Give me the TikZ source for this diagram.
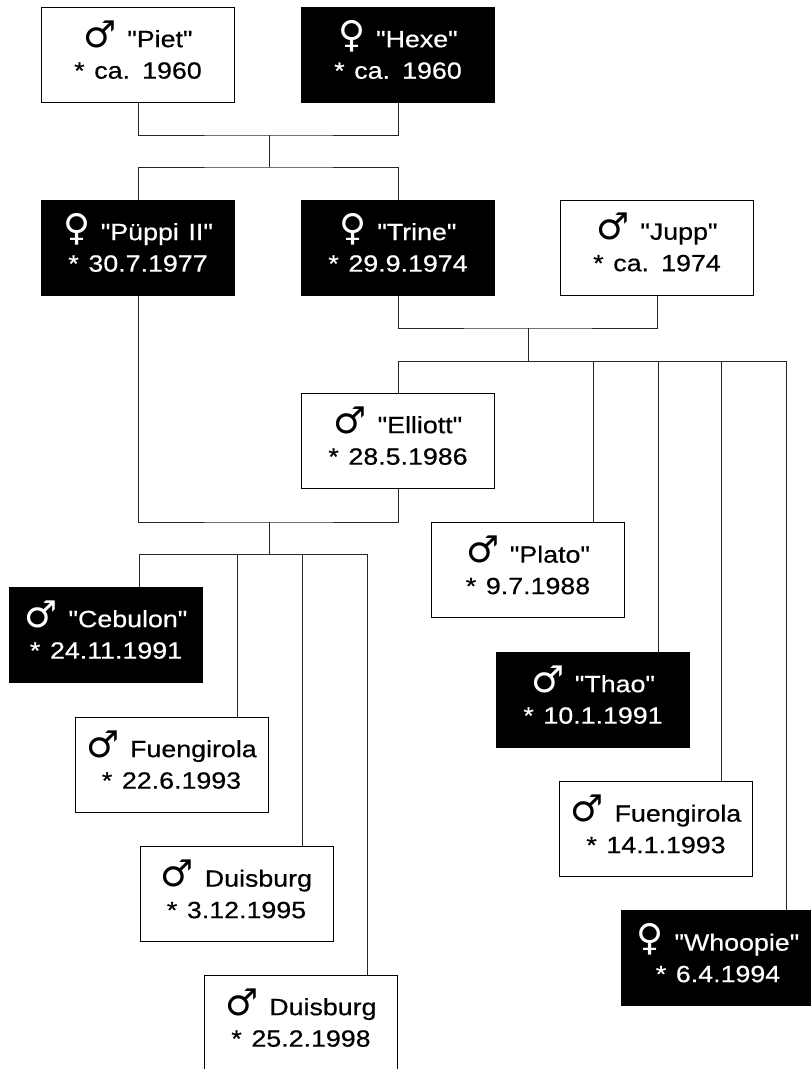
\documentclass[tikz,border=0pt]{standalone}
\usepackage{fontspec}
\newfontfamily\labelfont{Liberation Sans}[FakeStretch=1.14, WordSpace=1.3, FakeBold=0.5]
\newfontfamily\symfont{DejaVu Sans}
\newcommand\msym{\smash{\symfont\fontsize{37}{37}\selectfont ♂}\hspace{1pt}}
\newcommand\fsym{\smash{\symfont\fontsize{37}{37}\selectfont ♀}\hspace{1pt}}
\begin{document}
\begin{tikzpicture}[x=1pt,y=-1pt,
  box/.style={draw=black, line width=1pt, minimum width=193pt, minimum height=95pt,
    inner sep=0pt, align=center, font=\labelfont\fontsize{23.5}{31.5}\selectfont},
  wbox/.style={box, fill=white, text=black},
  bbox/.style={box, fill=black, text=white},
  conn/.style={draw=black!85, line width=0.9pt}]
\path[use as bounding box] (0,0) rectangle (811,1069);
\clip (0,0) rectangle (811,1069);

% nodes
\node[wbox] (piet) at (138,54.5) {\msym{} "Piet"\\\relax* ca. 1960};
\node[bbox] (hexe) at (398,55) {\fsym{} "Hexe"\\\relax* ca. 1960};
\node[bbox] (pueppi) at (138,247.5) {\fsym{} "Püppi II"\\\relax* 30.7.1977};
\node[bbox] (trine) at (398,247.5) {\fsym{} "Trine"\\\relax* 29.9.1974};
\node[wbox] (jupp) at (657,247.5) {\msym{} "Jupp"\\\relax* ca. 1974};
\node[wbox] (elliott) at (398,440.5) {\msym{} "Elliott"\\\relax* 28.5.1986};
\node[wbox] (plato) at (528,570) {\msym{} "Plato"\\\relax* 9.7.1988};
\node[bbox] (cebulon) at (106,634.5) {\msym{} "Cebulon"\\\relax* 24.11.1991};
\node[bbox] (thao) at (593,699.5) {\msym{} "Thao"\\\relax* 10.1.1991};
\node[wbox] (fuen1) at (171.5,764.5) {\msym{} Fuengirola\\\relax* 22.6.1993};
\node[wbox] (fuen2) at (656,829) {\msym{} Fuengirola\\\relax* 14.1.1993};
\node[wbox] (duis1) at (236.5,894) {\msym{} Duisburg\\\relax* 3.12.1995};
\node[bbox] (whoopie) at (718,958) {\fsym{} "Whoopie"\\\relax* 6.4.1994};
\node[wbox] (duis2) at (301,1022.5) {\msym{} Duisburg\\\relax* 25.2.1998};

% junction coordinates
\coordinate (j1) at (269,135);
\coordinate (j2) at (269,167);
\coordinate (j3) at (528,328);
\coordinate (j4) at (528,361);
\coordinate (r2) at (786,361);
\coordinate (c1) at (593,361);
\coordinate (c2) at (658,361);
\coordinate (c3) at (721,361);
\coordinate (j5) at (269,522);
\coordinate (j6) at (269,554);
\coordinate (d0) at (139,554);
\coordinate (d1) at (237,554);
\coordinate (d2) at (302,554);
\coordinate (d3) at (367,554);

% connectors
\draw[conn] (piet.south) |- (j1) -| (hexe.south);
\draw[conn] (j1) -- (j2);
\draw[conn] (pueppi.north) |- (j2) -| (trine.north);
\draw[conn] (trine.south) |- (j3) -| (jupp.south);
\draw[conn] (j3) -- (j4);
\draw[conn] (elliott.north) |- (r2) -- (r2 |- whoopie.north);
\draw[conn] (c1) -- (c1 |- plato.north);
\draw[conn] (c2) -- (c2 |- thao.north);
\draw[conn] (c3) -- (c3 |- fuen2.north);
\draw[conn] (pueppi.south) |- (j5) -| (elliott.south);
\draw[conn] (j5) -- (j6);
\draw[conn] (d0 |- cebulon.north) -- (d0) -- (d3) -- (d3 |- duis2.north);
\draw[conn] (d1) -- (d1 |- fuen1.north);
\draw[conn] (d2) -- (d2 |- duis1.north);
\end{tikzpicture}
\end{document}
